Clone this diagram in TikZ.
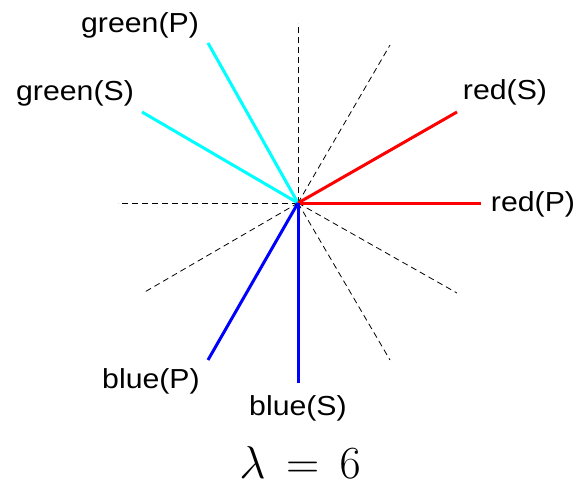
\RequirePackage{fix-cm}
\documentclass[tikz,border=0pt]{standalone}
\usepackage{fontspec}
\setmainfont{Liberation Sans}
\definecolor{cyanrgb}{RGB}{0,255,255}
\definecolor{redrgb}{RGB}{255,0,0}
\definecolor{bluergb}{RGB}{0,0,255}
\begin{document}
\begin{tikzpicture}[x=1pt,y=-1pt,
  solidray/.style={line width=3pt},
  dashray/.style={line width=0.8pt,dash pattern=on 6pt off 4pt},
  lab/.style={font=\fontsize{27.5}{31}\selectfont,inner sep=0pt,anchor=base,xscale=1.1}]
\useasboundingbox (0,0) rectangle (585,488);
\coordinate (O) at (298,203);
% dashed directions
\coordinate (d1) at (298,23);
\coordinate (d2) at (390,45);
\coordinate (d3) at (118,203);
\coordinate (d4) at (143,293);
\coordinate (d5) at (457,293);
\coordinate (d6) at (390,360);
\foreach \n in {d1,d2,d3,d4,d5,d6}{
  \draw[dashray] (O) -- (\n);
}
% solid
\coordinate (rS) at (457,112);
\coordinate (rP) at (481,203);
\coordinate (gP) at (208,43);
\coordinate (gS) at (142,112);
\coordinate (bP) at (208,360);
\coordinate (bS) at (298,383);
\draw[solidray,cyanrgb] (O) -- (gP);
\draw[solidray,cyanrgb] (O) -- (gS);
\draw[solidray,redrgb] (O) -- (rS);
\draw[solidray,redrgb] (O) -- (rP);
\draw[solidray,bluergb] (O) -- (bP);
\draw[solidray,bluergb] (O) -- (bS);
% labels
\node[lab] (LgP) at (140,32) {green(P)};
\node[lab] (LgS) at (75,100) {green(S)};
\node[lab] (LrS) at (505,99) {red(S)};
\node[lab] (LrP) at (533,211) {red(P)};
\node[lab] (LbP) at (151,388) {blue(P)};
\node[lab] (LbS) at (298,415) {blue(S)};
\node[inner sep=0pt,anchor=base,font=\fontsize{46}{54}\selectfont] (lam) at (300,478) {$\lambda\,=\,6$};
\end{tikzpicture}
\end{document}
